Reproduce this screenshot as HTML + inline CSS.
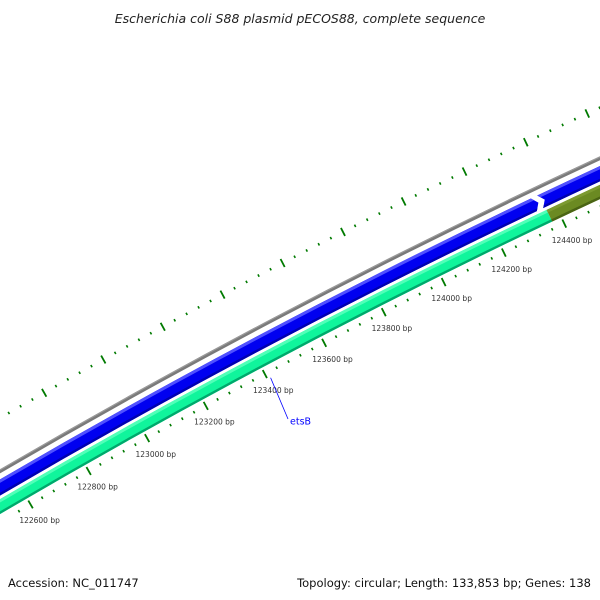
<!DOCTYPE html>
<html><head><meta charset="utf-8"><style>
html,body{margin:0;padding:0;background:#fff;overflow:hidden;}
svg{display:block;font-family:"DejaVu Sans","Liberation Sans",sans-serif;}
</style></head><body>
<svg id="map" width="600" height="600" viewBox="0 0 600 600" xmlns="http://www.w3.org/2000/svg">
<rect width="600" height="600" fill="#fff"/>
<text x="300" y="23" text-anchor="middle" font-size="12.5" font-style="italic" fill="#222">Escherichia coli S88 plasmid pECOS88, complete sequence</text>
<g id="rings"></g>
<g id="ticks"></g>
<g id="labels"></g>
<text x="8" y="587" font-size="11.5" fill="#111">Accession: NC_011747</text>
<text x="591" y="587" text-anchor="end" font-size="11.5" fill="#111">Topology: circular; Length: 133,853 bp; Genes: 138</text>
</svg>
<script>
const genomeLength = 133853;
const featStarts = [121000, 124363, 121000, 124370];
const featEnds = [124357, 126000, 124370, 126000];
const featNames = ['gene-blue-1','gene-blue-2','gene-green','gene-olive'];
const tickStart = 122560, tickEnd = 124760, tickStep = 40, majorStep = 200;
const geneLabel = 'etsB', geneLabelBp = 123410;

const NS='http://www.w3.org/2000/svg';
const R=7140, cx=3619.3, cy=6677;
const phiMid=Math.atan2(-0.8856,-0.466), bpMid=123500;
function pt(bp,r){const a=phiMid+(bp-bpMid)*2*Math.PI/genomeLength;return [cx+r*Math.cos(a),cy+r*Math.sin(a)];}
function f(p){return p[0].toFixed(2)+' '+p[1].toFixed(2);}
function arc(a,b,r){return 'M'+f(pt(a,r))+' A'+r+' '+r+' 0 0 1 '+f(pt(b,r));}
function mk(tag,attrs,parent){const e=document.createElementNS(NS,tag);for(const k in attrs)e.setAttribute(k,attrs[k]);parent.appendChild(e);return e;}
const rings=document.getElementById('rings'),ticks=document.getElementById('ticks'),labels=document.getElementById('labels');

let bb=mk('path',{d:arc(121000,126000,R+44),stroke:'#7a7a7a','stroke-width':3.6,fill:'none'},rings);


let bb2=mk('path',{d:arc(121000,126000,R+45.2),stroke:'#9a9a9a','stroke-width':1.2,fill:'none'},rings);



function band(s,e,r0,r1,col,light,dark,name,tip,notch){
  const g=mk('g',{},rings);
  
  
  const bpPx=genomeLength/(2*Math.PI*R);
  const al=tip?5*bpPx:0, nl=notch?5*bpPx:0;
  const rm=(r0+r1)/2;
  let d='M'+f(pt(s,r1))+' A'+r1+' '+r1+' 0 0 1 '+f(pt(e-al,r1));
  if(tip) d+=' L'+f(pt(e,rm));
  d+=' L'+f(pt(e-al,r0))+' A'+r0+' '+r0+' 0 0 0 '+f(pt(s,r0));
  if(notch) d+=' L'+f(pt(s+nl,rm));
  d+=' Z';
  mk('path',{d:d,fill:col},g);
  const cp=mk('clipPath',{id:'c'+name},g);
  mk('path',{d:d},cp);
  mk('path',{d:arc(s-50,e+50,r1-1.5),stroke:light,'stroke-width':3,fill:'none','clip-path':'url(#c'+name+')'},g);
  mk('path',{d:arc(s-50,e+50,r0+1.2),stroke:dark,'stroke-width':2.4,fill:'none','clip-path':'url(#c'+name+')'},g);
}
band(featStarts[0],featEnds[0],R+23,R+37,'#0000f0','#5050ff','#0000b0',featNames[0],true,false);
band(featStarts[1],featEnds[1],R+23,R+37,'#0000f0','#5050ff','#0000b0',featNames[1],false,true);
band(featStarts[2],featEnds[2],R+7,R+20,'#10f59c','#50ffb8','#00a86c',featNames[2],false,false);
band(featStarts[3],featEnds[3],R+7,R+20,'#6b8a22','#7c9a30','#4a6414',featNames[3],false,false);

for(let bp=tickStart;bp<=tickEnd;bp+=tickStep){
  const major=bp%majorStep===0;
  const h=major?4.5:1.3;
  [R,R+90].forEach((rr,i)=>{
    const a=pt(bp,rr-h),b=pt(bp,rr+h);
    if(Math.max(a[1],b[1])>560) return;
    const t=mk('line',{},ticks);
    t.setAttribute('x1',a[0]);t.setAttribute('y1',a[1]);t.setAttribute('x2',b[0]);t.setAttribute('y2',b[1]);
    t.setAttribute('stroke','#007a00');t.setAttribute('stroke-width',major?1.8:1.6);
    
    
  });
  if(major){
    const p=pt(bp,R-18);
    if(p[0]<5) continue;
    const tx=mk('text',{x:p[0].toFixed(1),y:(p[1]+3).toFixed(1),'text-anchor':'middle','font-size':7.5,fill:'#333'},labels);
    tx.textContent=bp+' bp';
    
    
  }
}
const lp=pt(geneLabelBp,R-6);
const ln=mk('line',{x1:lp[0],y1:lp[1],x2:288,y2:419,stroke:'#0000ff','stroke-width':0.8},labels);


const gl=mk('text',{x:290,y:424.5,'font-size':9.5,fill:'#0000ff'},labels);
gl.textContent=geneLabel;


</script>
</body></html>
